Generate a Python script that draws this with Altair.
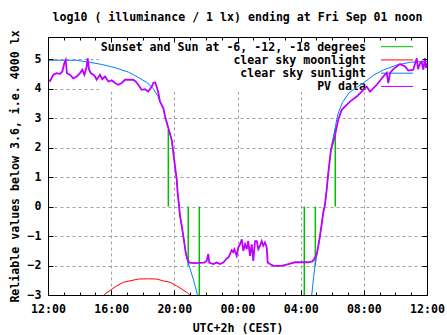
import altair as alt
import pandas as pd

# ---------------- data (hours after 12:00 CEST, log10 lux) ----------------
pv_hours = [0.00, 0.13, 0.34, 0.55, 0.76, 0.91, 1.03, 1.12, 1.20, 1.39, 1.60, 1.82, 2.03, 2.17, 2.30,
            2.45, 2.51, 2.60, 2.72, 2.87, 2.98, 3.08, 3.29, 3.44, 3.61, 3.82, 4.03, 4.24, 4.45, 4.67,
            4.88, 5.09, 5.40, 5.55, 5.72, 5.93, 6.14, 6.35, 6.57, 6.67, 6.78, 6.88, 6.99, 7.09, 7.30,
            7.41, 7.60, 7.83, 7.94, 8.04, 8.15, 8.21, 8.30, 8.36, 8.47, 8.57, 8.63, 8.72, 8.82, 8.95,
            9.31, 9.90, 10.05, 10.15, 10.21, 10.47, 10.68, 10.89, 11.10, 11.32, 11.42, 11.53, 11.63,
            11.73, 11.80, 11.95, 12.05, 12.16, 12.27, 12.37, 12.48, 12.58, 12.68, 12.79, 12.90, 13.00,
            13.11, 13.22, 13.32, 13.43, 13.53, 13.63, 13.74, 13.85, 13.91, 14.06, 14.27, 14.80, 15.22,
            15.64, 16.48, 16.74, 16.86, 17.02, 17.12, 17.22, 17.33, 17.43, 17.54, 17.65, 17.75, 17.86,
            17.92, 18.17, 18.38, 18.60, 19.12, 19.55, 19.97, 20.18, 20.39, 20.82, 21.23, 21.45, 21.55,
            21.66, 21.87, 22.29, 22.61, 22.82, 23.13, 23.35, 23.43, 23.56, 23.66, 23.77, 23.87, 23.94,
            24.00]
pv_values = [4.30, 4.26, 4.47, 4.52, 4.50, 4.58, 4.86, 4.97, 4.52, 4.47, 4.35, 4.41, 4.52, 4.64, 4.47,
             4.75, 5.03, 4.64, 4.52, 4.47, 4.41, 4.30, 4.47, 4.32, 4.41, 4.24, 4.28, 4.19, 4.13, 4.19,
             4.30, 4.30, 4.30, 4.24, 4.13, 3.96, 3.98, 3.90, 4.07, 4.19, 4.21, 4.07, 3.85, 3.56, 3.34,
             3.06, 2.70, 2.27, 1.82, 1.37, 0.92, 0.47, 0.02, -0.32, -0.66, -1.00, -1.22, -1.56, -1.78,
             -1.90, -1.92, -1.90, -1.84, -1.61, -1.90, -1.95, -1.90, -1.95, -1.90, -1.76, -1.73, -1.61,
             -1.48, -1.55, -1.45, -1.67, -1.39, -1.28, -1.11, -1.50, -1.28, -1.45, -1.17, -1.67, -1.28,
             -1.84, -1.17, -1.17, -1.45, -1.33, -1.17, -1.33, -1.22, -1.39, -1.90, -1.95, -2.01, -2.01,
             -1.95, -1.89, -1.89, -1.86, -1.78, -1.61, -1.33, -1.00, -0.60, -0.21, 0.07, 0.58, 1.15,
             1.65, 1.93, 2.40, 2.95, 3.28, 3.56, 3.73, 3.96, 4.07, 3.90, 4.13, 4.41, 4.54, 4.19, 4.53,
             4.66, 4.83, 4.75, 4.61, 4.64, 5.03, 4.66, 4.86, 4.91, 4.64, 5.03, 4.70, 4.86]

sun_hours = [0.00, 1.82, 2.55, 3.40, 4.24, 5.09, 5.72, 6.25, 6.67, 6.98, 7.09, 7.30, 7.41, 7.60, 7.83,
             7.94, 8.04, 8.15, 8.21, 8.30, 8.36, 8.47, 8.57, 8.63, 8.72, 8.82, 8.99, 9.20, 9.42, 9.50,
             9.70, 16.60, 16.70, 16.76, 16.82, 16.88, 16.94, 17.02, 17.12, 17.22, 17.33, 17.43, 17.54,
             17.65, 17.75, 17.86, 17.92, 18.00, 18.17, 18.28, 18.38, 18.65, 19.05, 19.55, 19.97, 20.60,
             21.23, 22.08, 22.92, 24.00]
sun_values = [4.96, 4.96, 4.90, 4.82, 4.71, 4.56, 4.38, 4.21, 4.00, 3.72, 3.56, 3.34, 3.06, 2.70, 2.27,
              1.82, 1.37, 0.92, 0.47, 0.02, -0.32, -0.66, -1.00, -1.22, -1.56, -1.82, -2.10, -2.46,
              -2.90, -3.10, -3.60, -3.60, -3.00, -2.70, -2.40, -2.12, -1.90, -1.67, -1.33, -1.00, -0.60,
              -0.21, 0.07, 0.58, 1.15, 1.65, 1.93, 2.20, 2.61, 2.95, 3.17, 3.53, 3.85, 4.05, 4.19, 4.45,
              4.63, 4.80, 4.89, 4.93]

moon_hours = [3.45, 3.61, 3.93, 4.35, 4.77, 5.19, 5.72, 6.30, 6.88, 7.30, 7.73, 8.15, 8.47, 8.78, 8.99, 9.15]
moon_values = [-3.20, -2.96, -2.85, -2.69, -2.57, -2.52, -2.46, -2.45, -2.46, -2.52, -2.57, -2.69, -2.80,
               -2.91, -3.00, -3.20]

event_hours = [7.62, 8.88, 9.58, 16.23, 16.93, 18.19]
event_from = [0.0, 0.0, 0.0, 0.0, 0.0, 0.0]
event_to = [2.61, -2.0, -3.0, -3.0, -2.0, 2.65]

label_hours = [0, 4, 8, 12, 16, 20, 24]
minor_hours = list(range(25))
y_ticks = [-3, -2, -1, 0, 1, 2, 3, 4, 5]

title_text = "log10 ( illuminance / 1 lx) ending at Fri Sep 01 noon"
legend_labels = ["Sunset and Sun at -6, -12, -18 degrees", "clear sky moonlight",
                 "clear sky sunlight", "PV data"]

# ---------------- styling ----------------
GREEN, RED, BLUE, PURPLE = "#00c000", "#ff0000", "#0080ff", "#c000ff"
legend_colors = [GREEN, RED, BLUE, PURPLE]
GRID = "#a0a0a0"
FONT = "DejaVu Sans Mono"
FS = 11.6
W, H = 379, 258

x_scale = alt.Scale(domain=[0, 24], nice=False, zero=False)
y_scale = alt.Scale(domain=[-3, 5.75], nice=False, zero=False)

pv_df = pd.DataFrame({"h": pv_hours, "v": pv_values})
sun_df = pd.DataFrame({"h": sun_hours, "v": sun_values})
moon_df = pd.DataFrame({"h": moon_hours, "v": moon_values})
ev_df = pd.DataFrame({"h": event_hours, "v1": event_from, "v2": event_to})
one = pd.DataFrame({"k": [0]})

label_expr = ("(((12 + datum.value) % 24) < 10 ? '0' : '') + ((12 + datum.value) % 24) + ':00'")

x_main_axis = alt.Axis(
    orient="bottom", values=label_hours, labelExpr=label_expr, title="UTC+2h (CEST)",
    ticks=False, tickSize=0, domain=False, grid=True, gridColor=GRID, gridDash=[3, 3],
    gridOpacity={"condition": {"test": "datum.value <= 0 || datum.value >= 24", "value": 0}, "value": 1},
    labelFlush=False, labelOverlap=False, labelBound=False, labelPadding=17.5,
    labelBaseline="alphabetic", titleBaseline="alphabetic", titleX=W / 2, titleY=36,
    titleAlign="center", zindex=0)
y_main_axis = alt.Axis(
    orient="left", values=y_ticks, title="Reliable values below 3.6, i.e. 4000 lx",
    ticks=False, tickSize=0, domain=False, grid=True, gridColor=GRID, gridDash=[3, 3],
    gridOpacity={"condition": {"test": "datum.value <= -3", "value": 0}, "value": 1},
    labelFlush=False, labelOverlap=False, labelPadding=7,
    titleAngle=270, titleX=-29.5, titleY=H / 2, titleAlign="center", titleBaseline="alphabetic",
    zindex=0)

tick_x = {"condition": {"test": "datum.value % 4 === 0", "value": 5}, "value": 3}
x_ticks_bottom = alt.Axis(orient="top", offset=-H, values=minor_hours, labels=False, title=None,
                          tickSize=tick_x, tickColor="black", tickWidth=1, domain=True,
                          domainColor="black", grid=False, zindex=1)
x_ticks_top = alt.Axis(orient="bottom", offset=-H, values=minor_hours, labels=False, title=None,
                       tickSize=tick_x, tickColor="black", tickWidth=1, domain=True,
                       domainColor="black", grid=False, zindex=1)
y_ticks_left = alt.Axis(orient="right", offset=-W, values=y_ticks, labels=False, title=None,
                        tickSize=5, tickColor="black", tickWidth=1, domain=True,
                        domainColor="black", grid=False, zindex=1)
y_ticks_right = alt.Axis(orient="left", offset=-W, values=y_ticks, labels=False, title=None,
                         tickSize=5, tickColor="black", tickWidth=1, domain=True,
                         domainColor="black", grid=False, zindex=1)

# chart title drawn as text above the plot area
title_layer = alt.Chart(one).mark_text(
    text=title_text, align="center", baseline="alphabetic", font=FONT, fontSize=FS,
    fontWeight="bold", color="black").encode(x=alt.value(W / 2), y=alt.value(-16))

# legend (opaque key box, gnuplot style)
legend_bg = alt.Chart(one).mark_rect(fill="white").encode(
    x=alt.value(51), x2=alt.value(378.5), y=alt.value(0.5), y2=alt.value(55))
legend_layers = []
for i, (lab, col) in enumerate(zip(legend_labels, legend_colors)):
    ry = 9.7 + i * 13.25
    legend_layers.append(
        alt.Chart(one).mark_text(text=lab, align="right", baseline="middle", font=FONT,
                                 fontSize=FS, fontWeight="bold", color="black").encode(
            x=alt.value(318), y=alt.value(ry + 1)))
    legend_layers.append(
        alt.Chart(one).mark_rule(color=col, strokeWidth=1).encode(
            x=alt.value(333), x2=alt.value(365), y=alt.value(ry)))

events = alt.Chart(ev_df).mark_rule(color=GREEN, strokeWidth=1.5, clip=True).encode(
    x=alt.X("h:Q", scale=x_scale, axis=None),
    y=alt.Y("v1:Q", scale=y_scale, axis=None),
    y2="v2:Q")

moon = alt.Chart(moon_df).mark_line(color=RED, strokeWidth=1, clip=True).encode(
    x=alt.X("h:Q", scale=x_scale, axis=x_main_axis),
    y=alt.Y("v:Q", scale=y_scale, axis=y_main_axis))

sun = alt.Chart(sun_df).mark_line(color=BLUE, strokeWidth=1, clip=True).encode(
    x=alt.X("h:Q", scale=x_scale, axis=x_ticks_bottom),
    y=alt.Y("v:Q", scale=y_scale, axis=y_ticks_left))

pv = alt.Chart(pv_df).mark_line(color=PURPLE, strokeWidth=1.8, clip=True).encode(
    x=alt.X("h:Q", scale=x_scale, axis=x_ticks_top),
    y=alt.Y("v:Q", scale=y_scale, axis=y_ticks_right))

chart = alt.layer(title_layer, legend_bg, *legend_layers, events, moon, sun, pv).resolve_axis(
    x="independent", y="independent"
).properties(
    width=W, height=H,
    autosize=alt.AutoSizeParams(type="none"),
    padding={"left": 48, "top": 37, "right": 20, "bottom": 40},
    background="white",
).configure_view(stroke="black", strokeWidth=1).configure_axis(
    labelFont=FONT, labelFontSize=FS, labelFontWeight="bold", labelColor="black",
    titleFont=FONT, titleFontSize=FS, titleFontWeight="bold", titleColor="black")

chart.save("out.html", embed_options={"renderer": "svg", "actions": False})
